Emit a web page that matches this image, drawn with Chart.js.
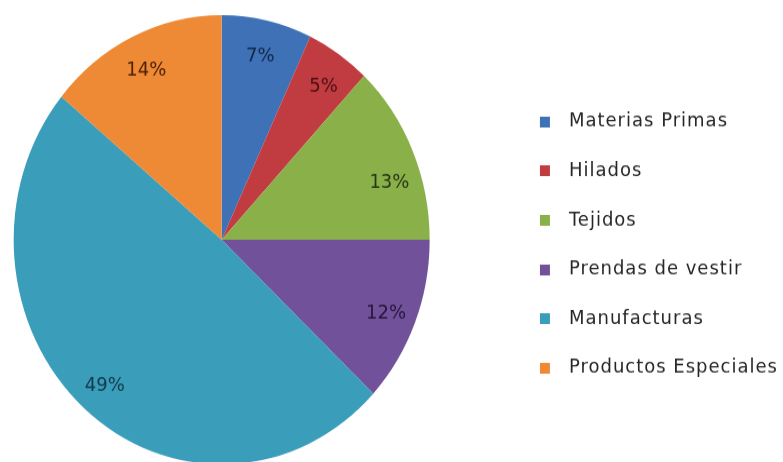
<!DOCTYPE html>
<html>
<head>
<meta charset="utf-8">
<script src="https://cdn.jsdelivr.net/npm/chart.js@4.4.1/dist/chart.umd.min.js"></script>
<style>
  html, body { margin: 0; padding: 0; background: #fff; }
  #frame { width: 783px; height: 462px; overflow: hidden; }
  #wrap { width: 783px; height: 440px; transform: scaleY(1.08); transform-origin: 0 0; }
</style>
</head>
<body>
<div id="frame"><div id="wrap"><canvas id="pie" width="783" height="440"></canvas></div></div>
<script>
// Shares by sector (%)
const sectors = ['Materias Primas', 'Hilados', 'Tejidos', 'Prendas de vestir', 'Manufacturas', 'Productos Especiales'];
const shares = [7, 5, 13, 12, 49, 14];
const sliceColors = ['#3E71B6', '#C03C40', '#8AB04A', '#72519B', '#3A9DBA', '#EE8936'];
const labelColors = ['#142747', '#4A1012', '#263812', '#24163B', '#10394B', '#4A2206'];
// label turned a little off the slice middle (degrees, clockwise)
const labelTurn = [0, 1, 5, 0, 0, 0];

const FONT = 'DejaVu Sans';
const SWATCH_W = 89;   // room before the square pushes the legend out to the right
const SWATCH_X = 69;

// swatch image: blank lead-in, then the 10px square, then a small gap
function swatch(color) {
  const c = document.createElement('canvas');
  c.width = SWATCH_W; c.height = 10;
  const g = c.getContext('2d');
  g.fillStyle = color;
  g.fillRect(SWATCH_X, 0, 10, 10);
  return c;
}

// legend text is a touch wider than the font alone
const spacing = {
  id: 'spacing',
  beforeLayout(chart) { chart.ctx.letterSpacing = '1px'; },
  beforeDraw(chart) { chart.ctx.letterSpacing = '1px'; }
};

// percentage text inside each slice
const pctLabels = {
  id: 'pctLabels',
  afterDatasetsDraw(chart) {
    const ctx = chart.ctx;
    const meta = chart.getDatasetMeta(0);
    ctx.save();
    ctx.letterSpacing = '0px';
    ctx.font = '18px "' + FONT + '"';
    ctx.textAlign = 'center';
    ctx.textBaseline = 'middle';
    meta.data.forEach((arc, i) => {
      const p = arc.getProps(['x', 'y', 'startAngle', 'endAngle', 'outerRadius'], true);
      const mid = (p.startAngle + p.endAngle) / 2 + labelTurn[i] * Math.PI / 180;
      const r = p.outerRadius * 0.85;
      ctx.fillStyle = labelColors[i];
      ctx.fillText(shares[i] + '%', p.x + Math.cos(mid) * r, p.y + Math.sin(mid) * r + 3);
    });
    ctx.restore();
  }
};

new Chart(document.getElementById('pie'), {
  type: 'pie',
  data: {
    labels: sectors,
    datasets: [{
      data: shares,
      backgroundColor: sliceColors,
      borderWidth: 0
    }]
  },
  options: {
    responsive: false,
    animation: false,
    layout: { padding: { top: 14, bottom: 10, left: 0, right: -5 } },
    plugins: {
      tooltip: { enabled: false },
      legend: {
        position: 'right',
        title: { display: true, text: ' ', font: { size: 8 }, padding: 0 },
        labels: {
          color: '#262626',
          font: { family: FONT, size: 18 },
          usePointStyle: true,
          pointStyleWidth: SWATCH_W,
          boxHeight: 10,
          padding: 27.6,
          generateLabels() {
            return sectors.map((s, i) => ({
              text: s,
              fillStyle: sliceColors[i],
              strokeStyle: sliceColors[i],
              fontColor: '#262626',
              lineWidth: 0,
              pointStyle: swatch(sliceColors[i]),
              hidden: false,
              index: i
            }));
          }
        }
      }
    }
  },
  plugins: [spacing, pctLabels]
});
</script>
</body>
</html>
